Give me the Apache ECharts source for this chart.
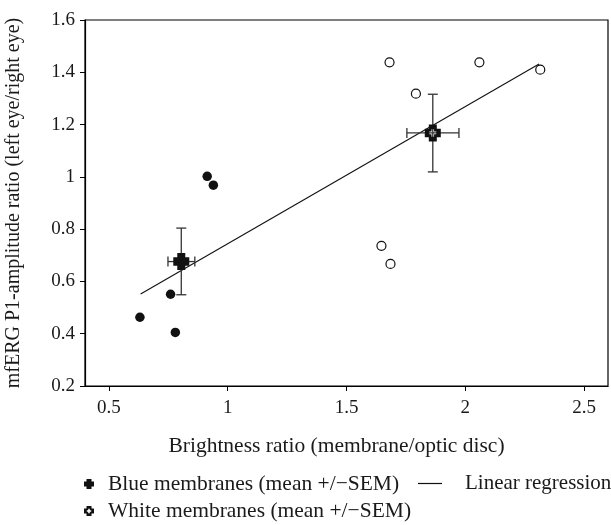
<!DOCTYPE html>
<html>
<head>
<meta charset="utf-8">
<script src="https://cdn.jsdelivr.net/npm/echarts@6/dist/echarts.min.js"></script>
<style>html,body{margin:0;padding:0;background:#fff}#c{width:611px;height:525px}</style>
</head>
<body>
<div id="c"></div>
<script>
const blueX = [0.631, 0.760, 0.780, 0.914, 0.940];
const blueY = [0.463, 0.551, 0.405, 1.002, 0.968];
const whiteX = [1.681, 2.059, 2.315, 1.792, 1.647, 1.685];
const whiteY = [1.438, 1.438, 1.410, 1.318, 0.736, 0.667];
const meanNames = ['Blue membranes (mean +/\u2212SEM)', 'White membranes (mean +/\u2212SEM)'];
const meanX = [0.805, 1.863];
const meanY = [0.676, 1.168];
const meanXLow = [0.749, 1.754];
const meanXHigh = [0.862, 1.973];
const meanYLow = [0.549, 1.019];
const meanYHigh = [0.804, 1.316];
const regName = 'Linear regression';
const regX = [0.634, 2.310];
const regY = [0.552, 1.432];
const xTicks = [0.5, 1, 1.5, 2, 2.5];
const xTitle = 'Brightness ratio (membrane/optic disc)';
const yTitle = 'mfERG P1-amplitude ratio (left eye/right eye)';

const FONT = 'Liberation Serif';
const plusPath = 'path://M2.5,0 H7.5 V2.5 H10 V7.5 H7.5 V10 H2.5 V7.5 H0 V2.5 H2.5 Z';
const plusHolePath = 'path://M2.5,0 H7.5 V2.5 H10 V7.5 H7.5 V10 H2.5 V7.5 H0 V2.5 H2.5 Z M4.2,2.8 V4.2 H2.8 V5.8 H4.2 V7.2 H5.8 V5.8 H7.2 V4.2 H5.8 V2.8 Z';
const lineIcon = 'path://M0,0 M0,4.4 H24 V5.6 H0 Z M24,10';
const ERR = '#333';
const CAP = 5;

function vErr(params, api) {
  const x = api.value(0), lo = api.value(1), hi = api.value(2);
  const a = api.coord([x, hi]), b = api.coord([x, lo]);
  const st = {stroke: ERR, lineWidth: 1.3};
  return {type: 'group', children: [
    {type: 'line', shape: {x1: a[0], y1: a[1], x2: b[0], y2: b[1]}, style: st},
    {type: 'line', shape: {x1: a[0]-CAP, y1: a[1], x2: a[0]+CAP, y2: a[1]}, style: st},
    {type: 'line', shape: {x1: b[0]-CAP, y1: b[1], x2: b[0]+CAP, y2: b[1]}, style: st}
  ]};
}
function hErr(params, api) {
  const y = api.value(0), lo = api.value(1), hi = api.value(2);
  const a = api.coord([lo, y]), b = api.coord([hi, y]);
  const st = {stroke: ERR, lineWidth: 1.3};
  return {type: 'group', children: [
    {type: 'line', shape: {x1: a[0], y1: a[1], x2: b[0], y2: b[1]}, style: st},
    {type: 'line', shape: {x1: a[0], y1: a[1]-CAP, x2: a[0], y2: a[1]+CAP}, style: st},
    {type: 'line', shape: {x1: b[0], y1: b[1]-CAP, x2: b[0], y2: b[1]+CAP}, style: st}
  ]};
}

const chart = echarts.init(document.getElementById('c'), null, {renderer: 'canvas'});
const txt = {fontFamily: FONT, color: '#1a1a1a'};
chart.setOption({
  animation: false,
  backgroundColor: '#fff',
  textStyle: {fontFamily: FONT},
  grid: {left: 85, top: 20, right: 3, bottom: 139, containLabel: false, outerBoundsMode: 'none',
         show: true, borderColor: '#000', borderWidth: 1.2, backgroundColor: 'transparent'},
  legend: [
    {data: [meanNames[0]], left: 84, top: 473, padding: 0, itemWidth: 10, itemHeight: 10,
     textStyle: Object.assign({fontSize: 21.5, padding: [0, 0, 0, 9]}, txt)},
    {data: [{name: regName, icon: lineIcon}], left: 418, top: 473, padding: 0, itemWidth: 24, itemHeight: 10,
     textStyle: Object.assign({fontSize: 21, padding: [0, 0, 0, 18]}, txt)},
    {data: [meanNames[1]], left: 84, top: 500, padding: 0, itemWidth: 10, itemHeight: 10,
     textStyle: Object.assign({fontSize: 21.5, padding: [0, 0, 0, 9]}, txt)}
  ],
  xAxis: {
    type: 'value', min: 0.4, max: 2.6,
    name: xTitle, nameLocation: 'middle', nameGap: 49,
    nameTextStyle: Object.assign({fontSize: 21.5, padding: [0, 20, 0, 0]}, txt),
    axisLine: {show: true, lineStyle: {color: '#000', width: 1.2}},
    axisTick: {show: true, length: 5, lineStyle: {color: '#000', width: 1}, customValues: xTicks},
    axisLabel: Object.assign({fontSize: 19, margin: 13, customValues: xTicks}, txt),
    splitLine: {show: false}
  },
  yAxis: {
    type: 'value', min: 0.2, max: 1.6, interval: 0.2,
    name: yTitle, nameLocation: 'middle', nameGap: 61, nameRotate: 90,
    nameTextStyle: Object.assign({fontSize: 20}, txt),
    axisLine: {show: true, lineStyle: {color: '#000', width: 1.2}},
    axisTick: {show: true, length: 5, lineStyle: {color: '#000', width: 1}},
    axisLabel: Object.assign({fontSize: 19, margin: 10}, txt),
    splitLine: {show: false}
  },
  series: [
    {name: regName, type: 'line', data: regX.map((x, i) => [x, regY[i]]), symbol: 'none', showSymbol: false,
     lineStyle: {color: '#111', width: 1.1}, itemStyle: {color: '#111'}, z: 1, silent: true},
    {name: 'vErr', type: 'custom', renderItem: vErr, data: meanX.map((x, i) => [x, meanYLow[i], meanYHigh[i]]),
     encode: {x: 0, y: [1, 2]}, z: 2, silent: true},
    {name: 'hErr', type: 'custom', renderItem: hErr, data: meanY.map((y, i) => [y, meanXLow[i], meanXHigh[i]]),
     encode: {x: [1, 2], y: 0}, z: 2, silent: true},
    {name: 'blueInd', type: 'scatter', data: blueX.map((x, i) => [x, blueY[i]]), symbol: 'circle', symbolSize: 9.5,
     itemStyle: {color: '#111', opacity: 1}, z: 3},
    {name: 'whiteInd', type: 'scatter', data: whiteX.map((x, i) => [x, whiteY[i]]), symbol: 'circle', symbolSize: 9,
     itemStyle: {color: '#fff', borderColor: '#111', borderWidth: 1.2, opacity: 1}, z: 3},
    {name: meanNames[0], type: 'scatter', data: [[meanX[0], meanY[0]]], symbol: plusPath, symbolSize: [16, 17],
     itemStyle: {color: '#111', opacity: 1}, z: 4},
    {name: meanNames[1], type: 'scatter', data: [[meanX[1], meanY[1]]], symbol: plusHolePath, symbolSize: [16, 17],
     itemStyle: {color: '#111', opacity: 1}, z: 4}
  ]
});
</script>
</body>
</html>
